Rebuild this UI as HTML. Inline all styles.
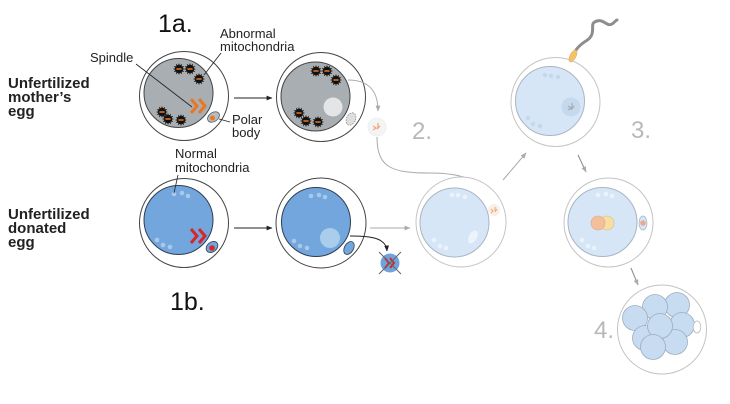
<!DOCTYPE html>
<html><head><meta charset="utf-8"><style>
html,body{margin:0;padding:0;background:#fff;}
svg{display:block;}
text{font-family:"Liberation Sans",sans-serif;}
</style></head><body>
<svg width="730" height="404" viewBox="0 0 730 404" xmlns="http://www.w3.org/2000/svg">
<defs>
<marker id="ab" viewBox="0 0 10 10" refX="9" refY="5" markerWidth="6" markerHeight="6" orient="auto"><path d="M0,1 L10,5 L0,9 z" fill="#222"/></marker>
<marker id="ag" viewBox="0 0 10 10" refX="9" refY="5" markerWidth="6" markerHeight="6" orient="auto"><path d="M0,1 L10,5 L0,9 z" fill="#aaa"/></marker>
<g id="mito">
<polygon points="6,0 3.48,0.93 5.2,3 2.55,2.55 3,5.2 0.93,3.48 0,6 -0.93,3.48 -3,5.2 -2.55,2.55 -5.2,3 -3.48,0.93 -6,0 -3.48,-0.93 -5.2,-3 -2.55,-2.55 -3,-5.2 -0.93,-3.48 0,-6 0.93,-3.48 3,-5.2 2.55,-2.55 5.2,-3 3.48,-0.93" fill="#111"/>
<circle r="3.9" fill="#111"/>
<line x1="-2.6" y1="0" x2="2.6" y2="0" stroke="#e87722" stroke-width="1.5"/>
</g>
<g id="chev"><path d="M0,-7 L6,0 L0,7 M8,-7 L14,0 L8,7" fill="none" stroke-width="3" stroke-linejoin="miter"/></g>
</defs>

<!-- labels left -->
<text x="8" y="88" font-size="15" font-weight="bold" fill="#222">Unfertilized</text>
<text x="8" y="102" font-size="15" font-weight="bold" fill="#222">mother’s</text>
<text x="8" y="116" font-size="15" font-weight="bold" fill="#222">egg</text>
<text x="8" y="219" font-size="15" font-weight="bold" fill="#222">Unfertilized</text>
<text x="8" y="233" font-size="15" font-weight="bold" fill="#222">donated</text>
<text x="8" y="247" font-size="15" font-weight="bold" fill="#222">egg</text>

<text x="158" y="32" font-size="25" fill="#111">1a.</text>
<text x="170" y="310" font-size="25" fill="#111">1b.</text>

<text x="90" y="62" font-size="13" fill="#222">Spindle</text>
<text x="220" y="38" font-size="13" fill="#222">Abnormal</text>
<text x="220" y="51" font-size="13" fill="#222">mitochondria</text>
<text x="232" y="124" font-size="13" fill="#222">Polar</text>
<text x="232" y="137" font-size="13" fill="#222">body</text>
<text x="175" y="158" font-size="13" fill="#222">Normal</text>
<text x="175" y="172" font-size="13" fill="#222">mitochondria</text>

<!-- Egg 1 mother -->
<circle cx="184" cy="96" r="44.5" fill="#fff" stroke="#444" stroke-width="1"/>
<circle cx="178.5" cy="93" r="34.5" fill="#a9aeb3" stroke="#444" stroke-width="1"/>
<use href="#mito" x="179" y="69"/><use href="#mito" x="190" y="69"/><use href="#mito" x="199" y="79"/>
<use href="#mito" x="162" y="112"/><use href="#mito" x="168" y="119"/><use href="#mito" x="181" y="120"/>
<use href="#chev" x="191" y="106" stroke="#e87722"/>
<ellipse cx="213.5" cy="117" rx="6.5" ry="4.5" transform="rotate(-35 213.5 117)" fill="#b8bcc0" stroke="#555" stroke-width="0.8"/>
<circle cx="212.5" cy="118" r="2.4" fill="#e87722"/>
<line x1="136" y1="64" x2="192" y2="107" stroke="#222" stroke-width="0.8"/>
<line x1="221" y1="53" x2="204" y2="75" stroke="#222" stroke-width="0.8"/>
<line x1="219" y1="119" x2="230" y2="122" stroke="#222" stroke-width="0.8"/>

<!-- Egg 2 donated -->
<circle cx="184" cy="223" r="44.5" fill="#fff" stroke="#444" stroke-width="1"/>
<circle cx="178.5" cy="220" r="34.5" fill="#72a6dc" stroke="#2f3f52" stroke-width="1"/>
<circle cx="174" cy="194" r="2.3" fill="#a9c9ec"/><circle cx="182" cy="193" r="2.3" fill="#a9c9ec"/><circle cx="188" cy="196" r="2.3" fill="#a9c9ec"/>
<circle cx="157" cy="240" r="2.3" fill="#a9c9ec"/><circle cx="163" cy="245" r="2.3" fill="#a9c9ec"/><circle cx="170" cy="247" r="2.3" fill="#a9c9ec"/>
<use href="#chev" x="191" y="236" stroke="#d7262b"/>
<ellipse cx="212" cy="247" rx="6.5" ry="4.8" transform="rotate(-40 212 247)" fill="#72a6dc" stroke="#2f3f52" stroke-width="0.8"/>
<circle cx="212" cy="248" r="2.8" fill="#d7262b"/>
<line x1="178" y1="175" x2="174" y2="193" stroke="#222" stroke-width="0.8"/>

<!-- black arrows -->
<line x1="234" y1="98" x2="272" y2="98" stroke="#222" stroke-width="1" marker-end="url(#ab)"/>
<line x1="234" y1="228" x2="272" y2="228" stroke="#222" stroke-width="1" marker-end="url(#ab)"/>

<!-- Egg 3 mother enucleated -->
<circle cx="321" cy="97" r="44.5" fill="#fff" stroke="#444" stroke-width="1"/>
<circle cx="315.5" cy="96.5" r="34.5" fill="#a9aeb3" stroke="#444" stroke-width="1"/>
<circle cx="333" cy="107" r="9.5" fill="#e3e5e7"/>
<use href="#mito" x="316" y="71"/><use href="#mito" x="327" y="71"/><use href="#mito" x="336" y="80"/>
<use href="#mito" x="299" y="113"/><use href="#mito" x="306" y="121"/><use href="#mito" x="318" y="122"/>
<ellipse cx="351" cy="119" rx="4.5" ry="6.5" transform="rotate(25 351 119)" fill="#dedede" stroke="#888" stroke-width="0.8" stroke-dasharray="1.5 1.2"/>

<!-- Egg 4 donated enucleated -->
<circle cx="321" cy="223" r="45" fill="#fff" stroke="#444" stroke-width="1"/>
<circle cx="316" cy="222" r="34.5" fill="#72a6dc" stroke="#2f3f52" stroke-width="1"/>
<circle cx="330" cy="238" r="10" fill="#a9cdeb"/>
<circle cx="311" cy="196" r="2.3" fill="#a9c9ec"/><circle cx="319" cy="195" r="2.3" fill="#a9c9ec"/><circle cx="325" cy="197" r="2.3" fill="#a9c9ec"/>
<circle cx="294" cy="241" r="2.3" fill="#a9c9ec"/><circle cx="300" cy="246" r="2.3" fill="#a9c9ec"/><circle cx="307" cy="248" r="2.3" fill="#a9c9ec"/>
<ellipse cx="349" cy="248" rx="4.5" ry="7" transform="rotate(30 349 248)" fill="#72a6dc" stroke="#2f3f52" stroke-width="0.8"/>
<path d="M350,236 C372,236 386,238 387,251" fill="none" stroke="#222" stroke-width="1" marker-end="url(#ab)"/>

<!-- crossed cell -->
<circle cx="390" cy="263" r="9.5" fill="#6fa3db"/>
<path d="M385,258 L389,263 L385,268 M390,258 L394,263 L390,268" fill="none" stroke="#d7262b" stroke-width="2"/>
<line x1="379" y1="252" x2="401" y2="274" stroke="#666" stroke-width="1"/>
<line x1="401" y1="252" x2="379" y2="274" stroke="#666" stroke-width="1"/>

<!-- gray connectors -->
<path d="M348,80 C370,80 378,92 378,111" fill="none" stroke="#aaa" stroke-width="1" marker-end="url(#ag)"/>
<circle cx="377" cy="127" r="9" fill="#f4f4f4" stroke="#ececec" stroke-width="0.8"/>
<path d="M373,126 L376,128 L373,130 M378,123 L378,128 M380,126 L377,129" fill="none" stroke="#f0a877" stroke-width="1.3"/>
<path d="M377,137 C377,168 392,173 430,173 C465,173 482,181 489,202" fill="none" stroke="#aaa" stroke-width="1" marker-end="url(#ag)"/>
<line x1="370" y1="228" x2="410" y2="228" stroke="#aaa" stroke-width="1" marker-end="url(#ag)"/>
<line x1="503" y1="180" x2="526" y2="153" stroke="#aaa" stroke-width="1" marker-end="url(#ag)"/>
<line x1="578" y1="155" x2="586" y2="172" stroke="#888" stroke-width="1" marker-end="url(#ag)"/>
<line x1="631" y1="268" x2="638" y2="285" stroke="#888" stroke-width="1" marker-end="url(#ag)"/>

<text x="412" y="139" font-size="24" fill="#b8b8b8">2.</text>
<text x="631" y="138" font-size="24" fill="#b8b8b8">3.</text>
<text x="594" y="338" font-size="24" fill="#b8b8b8">4.</text>

<!-- Egg 5 reconstructed -->
<circle cx="461" cy="222" r="45" fill="#fff" stroke="#c4c4c4" stroke-width="1"/>
<circle cx="454.5" cy="222.5" r="34.5" fill="#d6e6f6" stroke="#aab5c1" stroke-width="1"/>
<circle cx="452" cy="195" r="2.3" fill="#eaf2fb"/><circle cx="458" cy="195" r="2.3" fill="#eaf2fb"/><circle cx="465" cy="197" r="2.3" fill="#eaf2fb"/>
<circle cx="434" cy="240" r="2.3" fill="#eaf2fb"/><circle cx="440" cy="246" r="2.3" fill="#eaf2fb"/><circle cx="446" cy="248" r="2.3" fill="#eaf2fb"/>
<ellipse cx="473" cy="237" rx="4" ry="7" transform="rotate(30 473 237)" fill="#edf3fb"/>
<circle cx="494" cy="210" r="6" fill="#f7efe8"/>
<path d="M491,209 L493,211 L491,213 M495,207 L495,211 M497,209 L495,212" fill="none" stroke="#f0a877" stroke-width="1.1"/>

<!-- Egg 6 with sperm -->
<circle cx="555.5" cy="102" r="44.5" fill="#fff" stroke="#c4c4c4" stroke-width="1"/>
<circle cx="550" cy="101" r="34.5" fill="#d6e6f6" stroke="#aab5c1" stroke-width="1"/>
<circle cx="545" cy="75" r="2.2" fill="#c3d7ed"/><circle cx="551" cy="76" r="2.2" fill="#c3d7ed"/><circle cx="558" cy="77" r="2.2" fill="#c3d7ed"/>
<circle cx="528" cy="118" r="2.2" fill="#c3d7ed"/><circle cx="533" cy="124" r="2.2" fill="#c3d7ed"/><circle cx="540" cy="126" r="2.2" fill="#c3d7ed"/>
<circle cx="571" cy="107" r="9.5" fill="#c4d8ee"/>
<path d="M568,106 L571,108 L568,110 M572,103 L572,109 M574,106 L571,110" fill="none" stroke="#aaa" stroke-width="1.2"/>
<path d="M576,50 C582,41 590,41 592,34 C594,27 590,23 597,21 C604,19 607,27 612,24 C615,22 616,20 617,20" fill="none" stroke="#8d8d8d" stroke-width="3" stroke-linecap="round"/>
<ellipse cx="573" cy="56" rx="3" ry="6.5" transform="rotate(28 573 56)" fill="#f2c46a" stroke="#e0a64a" stroke-width="0.5"/>

<!-- Egg 7 pronuclei -->
<circle cx="608.5" cy="222.5" r="44.5" fill="#fff" stroke="#c4c4c4" stroke-width="1"/>
<circle cx="602.5" cy="222" r="34.5" fill="#d6e6f6" stroke="#aab5c1" stroke-width="1"/>
<circle cx="598" cy="195" r="2.3" fill="#eaf2fb"/><circle cx="606" cy="194" r="2.3" fill="#eaf2fb"/><circle cx="612" cy="196" r="2.3" fill="#eaf2fb"/>
<circle cx="582" cy="240" r="2.3" fill="#eaf2fb"/><circle cx="588" cy="246" r="2.3" fill="#eaf2fb"/><circle cx="594" cy="248" r="2.3" fill="#eaf2fb"/>
<circle cx="607" cy="223" r="7" fill="#f7dfa2" stroke="#d9b98a" stroke-width="0.6"/>
<circle cx="598" cy="223" r="7" fill="#f4c09b" stroke="#d9a784" stroke-width="0.6"/>
<ellipse cx="643" cy="223" rx="4" ry="7" fill="#d6e6f6" stroke="#9fb0c0" stroke-width="0.7"/>
<circle cx="643" cy="223" r="2.8" fill="#e8ab8f"/>

<!-- Egg 8 embryo -->
<circle cx="662" cy="329.5" r="44.5" fill="#fff" stroke="#c4c4c4" stroke-width="1"/>
<g fill="#c7dbf1" stroke="#9cadbf" stroke-width="0.8">
<circle cx="677" cy="305" r="12.5"/>
<circle cx="655" cy="307" r="12.5"/>
<circle cx="635" cy="318" r="12.5"/>
<circle cx="682" cy="325" r="12.5"/>
<circle cx="645" cy="338" r="12.5"/>
<circle cx="675" cy="342" r="12.5"/>
<circle cx="660" cy="326" r="12.5"/>
<circle cx="653" cy="347" r="12.5"/>
</g>
<ellipse cx="697" cy="327" rx="3.8" ry="6" fill="#fff" stroke="#bbb" stroke-width="0.8"/>
</svg>
</body></html>
